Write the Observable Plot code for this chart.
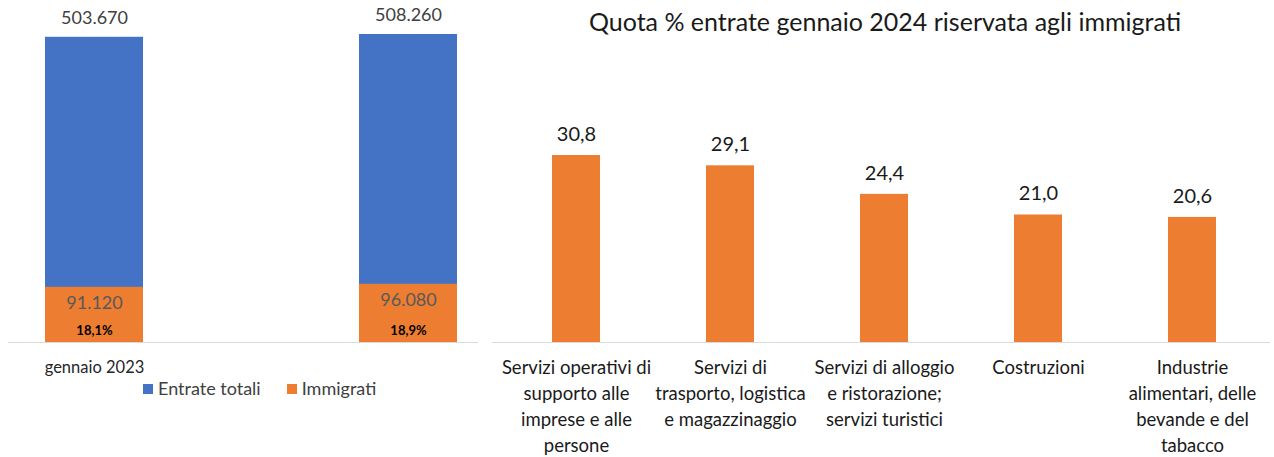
<!DOCTYPE html>
<html><head><meta charset="utf-8">
<script src="https://cdn.jsdelivr.net/npm/d3@7"></script>
<script src="https://cdn.jsdelivr.net/npm/@observablehq/plot@0.6"></script>
<style>
html,body{margin:0;padding:0;background:#fff;overflow:hidden;}
#root{position:relative;width:1274px;height:457px;font-family:Lato,"Open Sans",sans-serif;}
#left{position:absolute;left:0;top:0;}
#right{position:absolute;left:480px;top:0;}
#title{position:absolute;top:6px;left:885px;transform:translateX(-50%);white-space:nowrap;font-size:25px;line-height:1.2;color:#1a1a1a;}
#legend{position:absolute;top:378px;left:143px;font-size:18px;line-height:1.2;color:#404040;display:flex;align-items:center;white-space:nowrap;}
#legend .item{display:flex;align-items:center;margin-right:26px;}
#legend .sw{display:inline-block;width:10px;height:10px;margin-right:5px;}
</style></head><body>
<div id="root">
  <div id="left"></div>
  <div id="right"></div>
  <div id="title"></div>
  <div id="legend"></div>
</div>
<script>
// ---- Left chart data ----
const periods = ["gennaio 2023", "gennaio 2024"];
const periodTickLabels = ["gennaio 2023", ""];
const entrateTotali = [503670, 508260];
const immigrati = [91120, 96080];
const quotaImmigrati = [18.1, 18.9];
const seriesNames = ["Entrate totali", "Immigrati"];
const seriesColors = ["#4472C4", "#ED7D31"];

// ---- Right chart data ----
const titolo = "Quota % entrate gennaio 2024 riservata agli immigrati";
const settori = [
  "Servizi operativi di supporto alle imprese e alle persone",
  "Servizi di trasporto, logistica e magazzinaggio",
  "Servizi di alloggio e ristorazione; servizi turistici",
  "Costruzioni",
  "Industrie alimentari, delle bevande e del tabacco"
];
const settoriTickLabels = [
  "Servizi operativi di\nsupporto alle\nimprese e alle\npersone",
  "Servizi di\ntrasporto, logistica\ne magazzinaggio",
  "Servizi di alloggio\ne ristorazione;\nservizi turistici",
  "Costruzioni",
  "Industrie\nalimentari, delle\nbevande e del\ntabacco"
];
const quota2024 = [30.8, 29.1, 24.4, 21.0, 20.6];

const it = d3.formatLocale({decimal: ",", thousands: ".", grouping: [3], currency: ["", " €"]});
const fmtInt = it.format(",d");
const fmt1 = it.format(".1f");

const FONT = "Lato, 'Open Sans', sans-serif";

// ---- Left chart ----
const leftRows = periods.map((p, i) => ({
  period: p, totale: entrateTotali[i], immigrati: immigrati[i], quota: quotaImmigrati[i]
}));

const left = Plot.plot({
  width: 480,
  height: 400,
  marginLeft: 8,
  marginRight: 2,
  marginTop: 34,
  marginBottom: 58,
  style: {fontFamily: FONT, background: "transparent", overflow: "visible"},
  x: {domain: periods, range: [45, 457], paddingInner: 0.688, paddingOuter: 0, axis: null, label: null},
  y: {domain: [0, d3.max(entrateTotali)], axis: null},
  marks: [
    Plot.barY(leftRows, {x: "period", y: "totale", fill: seriesColors[0]}),
    Plot.barY(leftRows, {x: "period", y: "immigrati", fill: seriesColors[1]}),
    Plot.ruleY([0], {stroke: "#d9d9d9", strokeWidth: 1}),
    Plot.text(leftRows, {x: "period", y: "totale", text: d => fmtInt(d.totale), dy: -19, fontSize: 18, fill: "#404040"}),
    Plot.text(leftRows, {x: "period", y: "immigrati", text: d => fmtInt(d.immigrati), dy: 16, fontSize: 18, fill: "#595959"}),
    Plot.text(leftRows, {x: "period", y: 0, text: d => fmt1(d.quota) + "%", dy: -12, fontSize: 13, fontWeight: "bold", fill: "#000"}),
    Plot.axisX({tickSize: 0, tickPadding: 19, fontSize: 16.5, fill: "#262626", label: null,
      tickFormat: d => periodTickLabels[periods.indexOf(d)]})
  ]
});
document.getElementById("left").appendChild(left);

// legend
const legend = document.getElementById("legend");
seriesNames.forEach((n, i) => {
  const item = document.createElement("span");
  item.className = "item";
  const sw = document.createElement("span");
  sw.className = "sw";
  sw.style.background = seriesColors[i];
  item.appendChild(sw);
  item.appendChild(document.createTextNode(n));
  legend.appendChild(item);
});

// ---- Right chart ----
const rightRows = settori.map((s, i) => ({settore: s, quota: quota2024[i]}));
const right = Plot.plot({
  width: 794,
  height: 457,
  marginLeft: 12,
  marginRight: 4,
  marginTop: 155,
  marginBottom: 115,
  style: {fontFamily: FONT, background: "transparent", overflow: "visible"},
  x: {domain: settori, range: [19, 789], paddingInner: 0.69, paddingOuter: 0.345, axis: null, label: null},
  y: {domain: [0, d3.max(quota2024)], axis: null},
  marks: [
    Plot.barY(rightRows, {x: "settore", y: "quota", fill: seriesColors[1]}),
    Plot.ruleY([0], {stroke: "#d9d9d9", strokeWidth: 1}),
    Plot.text(rightRows, {x: "settore", y: "quota", text: d => fmt1(d.quota), dy: -21, fontSize: 20, fill: "#1a1a1a"}),
    Plot.axisX({tickSize: 0, tickPadding: 13, fontSize: 18.5, lineHeight: 1.41, fill: "#1a1a1a", label: null,
      tickFormat: d => settoriTickLabels[settori.indexOf(d)]})
  ]
});
document.getElementById("right").appendChild(right);
document.getElementById("title").textContent = titolo;
</script>
</body></html>
